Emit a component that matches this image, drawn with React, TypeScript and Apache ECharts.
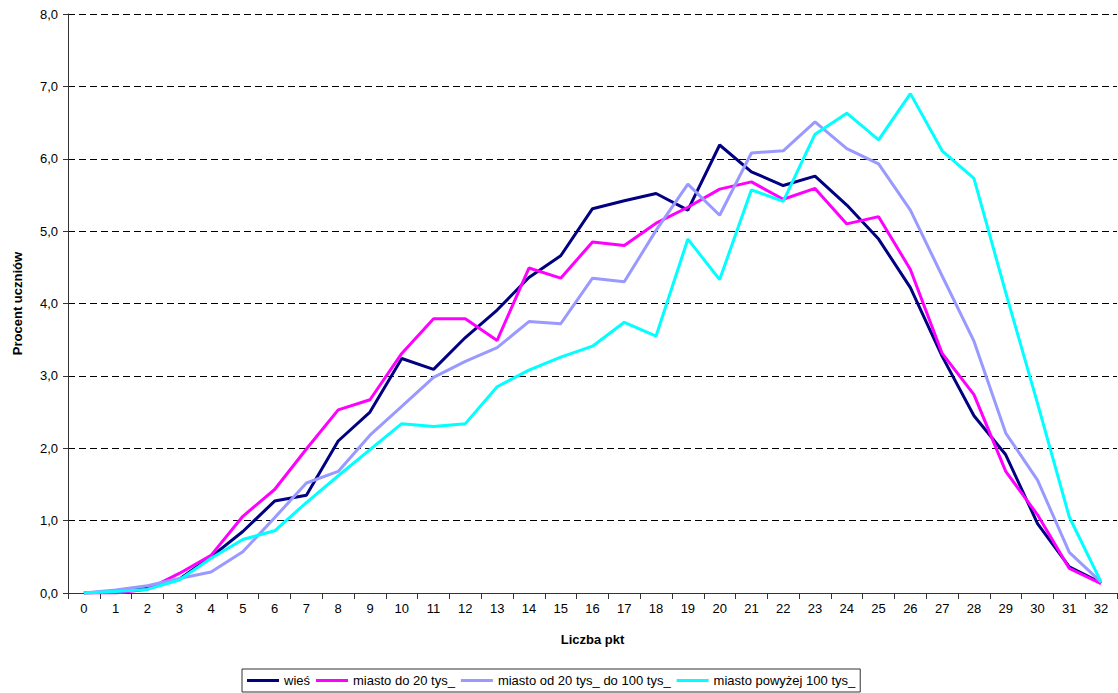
import React, { useEffect, useRef } from "react";
import * as echarts from "echarts";

const categories = Array.from({ length: 33 }, (_, i) => String(i));

const seriesNames = [
  "wieś",
  "miasto do 20 tys_",
  "miasto od 20 tys_ do 100 tys_",
  "miasto powyżej 100 tys_",
];

const wies = [
  0.0, 0.02, 0.07, 0.19, 0.5, 0.85, 1.27, 1.35, 2.1, 2.5, 3.24, 3.09, 3.53,
  3.91, 4.36, 4.66, 5.31, 5.42, 5.52, 5.29, 6.19, 5.82, 5.63, 5.76, 5.36, 4.89,
  4.22, 3.27, 2.45, 1.91, 0.96, 0.36, 0.14,
];

const miastoDo20 = [
  0.0, 0.0, 0.05, 0.27, 0.52, 1.06, 1.43, 1.99, 2.53, 2.67, 3.31, 3.79, 3.79,
  3.49, 4.49, 4.35, 4.85, 4.8, 5.11, 5.33, 5.58, 5.68, 5.44, 5.59, 5.1, 5.2,
  4.47, 3.31, 2.74, 1.68, 1.08, 0.34, 0.13,
];

const miasto20do100 = [
  0.0, 0.04, 0.1, 0.2, 0.29, 0.57, 1.04, 1.52, 1.68, 2.18, 2.58, 2.98, 3.2,
  3.39, 3.75, 3.72, 4.35, 4.3, 5.01, 5.65, 5.22, 6.08, 6.11, 6.51, 6.14, 5.93,
  5.29, 4.38, 3.48, 2.21, 1.56, 0.56, 0.15,
];

const miastoPow100 = [
  0.0, 0.02, 0.05, 0.18, 0.48, 0.74, 0.86, 1.25, 1.62, 1.98, 2.34, 2.3, 2.34,
  2.85, 3.08, 3.26, 3.41, 3.74, 3.55, 4.89, 4.33, 5.57, 5.41, 6.34, 6.63, 6.26,
  6.9, 6.11, 5.73, 4.15, 2.62, 1.05, 0.15,
];

const seriesColors = ["#000080", "#FF00FF", "#9999FF", "#00FFFF"];
const seriesData = [wies, miastoDo20, miasto20do100, miastoPow100];

const FONT = "'Liberation Sans', Arial, sans-serif";

export default function App() {
  const ref = useRef<HTMLDivElement>(null);

  useEffect(() => {
    if (!ref.current) return;
    const chart = echarts.init(ref.current, undefined, { renderer: "svg" });
    chart.setOption({
      animation: false,
      backgroundColor: "#ffffff",
      textStyle: { fontFamily: FONT },
      grid: { left: 68, right: 1, top: 14, bottom: 100, containLabel: false },
      legend: {
        left: 242,
        top: 669,
        padding: [4, 5],
        itemGap: 6,
        itemWidth: 32,
        itemHeight: 3,
        icon: "rect",
        borderColor: "#333",
        borderWidth: 1,
        borderRadius: 0,
        textStyle: {
          fontFamily: FONT,
          fontSize: 13,
          color: "#000",
          lineHeight: 15,
        },
        data: seriesNames,
      },
      xAxis: {
        type: "category",
        data: categories,
        boundaryGap: true,
        name: "Liczba pkt",
        nameLocation: "middle",
        nameGap: 40,
        nameTextStyle: {
          fontFamily: FONT,
          fontSize: 13,
          fontWeight: "bold",
          color: "#000",
        },
        axisLine: { show: true, lineStyle: { color: "#333", width: 1 } },
        axisTick: {
          show: true,
          alignWithLabel: false,
          length: 6,
          lineStyle: { color: "#333" },
        },
        axisLabel: {
          fontFamily: FONT,
          fontSize: 13,
          color: "#000",
          margin: 9,
          interval: 0,
        },
        splitLine: { show: false },
      },
      yAxis: {
        type: "value",
        min: 0,
        max: 8,
        interval: 1,
        name: "Procent uczniów",
        nameLocation: "middle",
        nameRotate: 90,
        nameGap: 44,
        nameTextStyle: {
          fontFamily: FONT,
          fontSize: 13,
          fontWeight: "bold",
          color: "#000",
        },
        axisLine: { show: true, lineStyle: { color: "#333", width: 1 } },
        axisTick: { show: true, length: 5, lineStyle: { color: "#333" } },
        axisLabel: {
          fontFamily: FONT,
          fontSize: 13,
          color: "#000",
          margin: 10,
          formatter: (v: number) => v.toFixed(1).replace(".", ","),
        },
        splitLine: {
          show: true,
          lineStyle: { color: "#000", type: [7, 4], width: 1 },
        },
      },
      series: seriesNames.map((name, i) => ({
        name,
        type: "line",
        data: seriesData[i],
        symbol: "none",
        showSymbol: false,
        color: seriesColors[i],
        lineStyle: { color: seriesColors[i], width: 3 },
        z: 2 + i,
      })),
    });
    return () => chart.dispose();
  }, []);

  return (
    <div
      ref={ref}
      style={{ width: 1118, height: 693, position: "absolute", left: 0, top: 0 }}
    />
  );
}
